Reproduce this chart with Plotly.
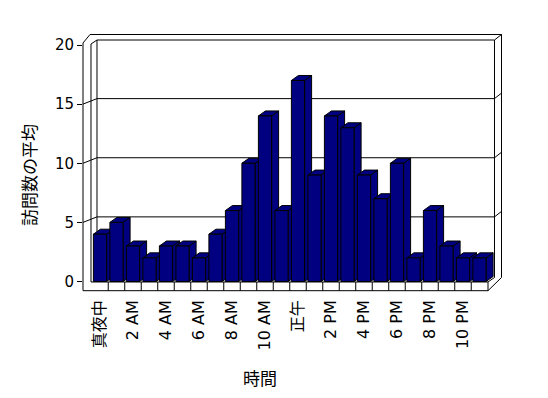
import plotly.graph_objects as go

# ---- data ----
hours = list(range(24))
visits = [4, 5, 3, 2, 3, 3, 2, 4, 6, 10, 14, 6, 17, 9, 14, 13, 9, 7, 10, 2, 6, 3, 2, 2]
tick_hours = [0, 2, 4, 6, 8, 10, 12, 14, 16, 18, 20, 22]
tick_labels = ["真夜中", "2 AM", "4 AM", "6 AM", "8 AM", "10 AM", "正午",
               "2 PM", "4 PM", "6 PM", "8 PM", "10 PM"]
y_ticks = [0, 5, 10, 15, 20]
y_title = "訪問数の平均"
x_title = "時間"

NAVY = "#000080"
W, H = 548, 398
# plot area in pixels
PL, PR, PT, PB = 83, 502, 34, 292
SLOT = 16.5          # px per category
X0PX = 91.75         # px of x=-0.5
YPX0 = 281.5         # px of y=0 (front plane)
YSC = 11.825         # px per unit


def xv(px):
    return -0.5 + (px - X0PX) / SLOT


def yv(py):
    return (YPX0 - py) / YSC


def P(px, py):
    return ((px - PL) / (PR - PL), (PB - py) / (PB - PT))


def line_px(pts, width=1):
    d = ""
    for k, (a, b) in enumerate(pts):
        x, y = P(a, b)
        d += ("M" if k == 0 else "L") + f"{x:.5f},{y:.5f}"
    return dict(type="path", xref="paper", yref="paper", path=d,
                line=dict(color="black", width=width), layer="below")


shapes = []
# back wall gridlines (with diagonal across left wall and right wall edge)
for v in [5, 10, 15]:
    f = YPX0 - YSC * v
    b = f - 5.5
    shapes.append(line_px([(83, f), (97, b), (494.5, b), (501.5, b - 5.5)]))

# frame
frame = [
    [(83, 43), (83, 290.7), (488, 290.7), (501.5, 277.5), (501.5, 34.5), (90, 34.5), (83, 43)],
    [(91, 282), (91, 44), (97, 40), (494.5, 40), (494.5, 277.5), (488, 282)],
    [(494.5, 40), (501.5, 34.5)],
    [(97, 40), (97, 278)],
    [(91, 282), (488, 282), (488, 290.7)],
]
for pts in frame:
    shapes.append(line_px(pts))
# floor cell dividers
for i in range(1, 24):
    xp = X0PX + i * SLOT
    shapes.append(line_px([(xp, 282), (xp, 290.7)]))

# 3D faces of the bars (top and side), in data coordinates
half = 0.4
ddx = 7 / SLOT
ddy = 5 / YSC
for h, v in zip(hours, visits):
    x0, x1 = h - half, h + half
    side = (f"M{x1},0 L{x1},{v} L{x1 + ddx},{v + ddy} L{x1 + ddx},{ddy} Z")
    top = (f"M{x0},{v} L{x1},{v} L{x1 + ddx},{v + ddy} L{x0 + ddx},{v + ddy} Z")
    for p in (side, top):
        shapes.append(dict(type="path", xref="x", yref="y", path=p,
                           fillcolor=NAVY, line=dict(color="black", width=1),
                           layer="below"))

fig = go.Figure(go.Bar(
    x=hours, y=visits, width=2 * half,
    marker=dict(color=NAVY, line=dict(color="black", width=1)),
    hoverinfo="skip",
))

fig.update_layout(
    width=W, height=H,
    margin=dict(l=PL, r=W - PR, t=PT, b=H - PB, pad=0),
    paper_bgcolor="white", plot_bgcolor="white",
    showlegend=False,
    shapes=shapes,
    font=dict(family="DejaVu Sans, Noto Sans CJK JP", size=15, color="black"),
    xaxis=dict(range=[xv(PL), xv(PR)], tickvals=tick_hours, ticktext=tick_labels,
               tickangle=-90, showgrid=False, zeroline=False, showline=False,
               ticks="", ticklabelstandoff=4,
               tickfont=dict(family="DejaVu Sans, Noto Sans CJK JP", size=16)),
    yaxis=dict(range=[yv(PB), yv(PT)], tickvals=y_ticks, showgrid=False,
               zeroline=False, showline=False, ticks="outside", ticklen=5,
               tickcolor="black", tickwidth=1,
               tickfont=dict(family="DejaVu Sans", size=15)),
    annotations=[
        dict(text=y_title, xref="paper", yref="paper",
             x=P(28, 175)[0], y=P(28, 175)[1], showarrow=False, textangle=-90,
             font=dict(family="Noto Sans CJK JP", size=17), xanchor="center", yanchor="middle"),
        dict(text=x_title, xref="paper", yref="paper",
             x=P(260, 377)[0], y=P(260, 377)[1], showarrow=False,
             font=dict(family="Noto Sans CJK JP", size=17), xanchor="center", yanchor="middle"),
    ],
)

fig.write_html("out.html", config={"displayModeBar": False},
               post_script="document.body.style.margin='0';document.body.style.padding='0';")
